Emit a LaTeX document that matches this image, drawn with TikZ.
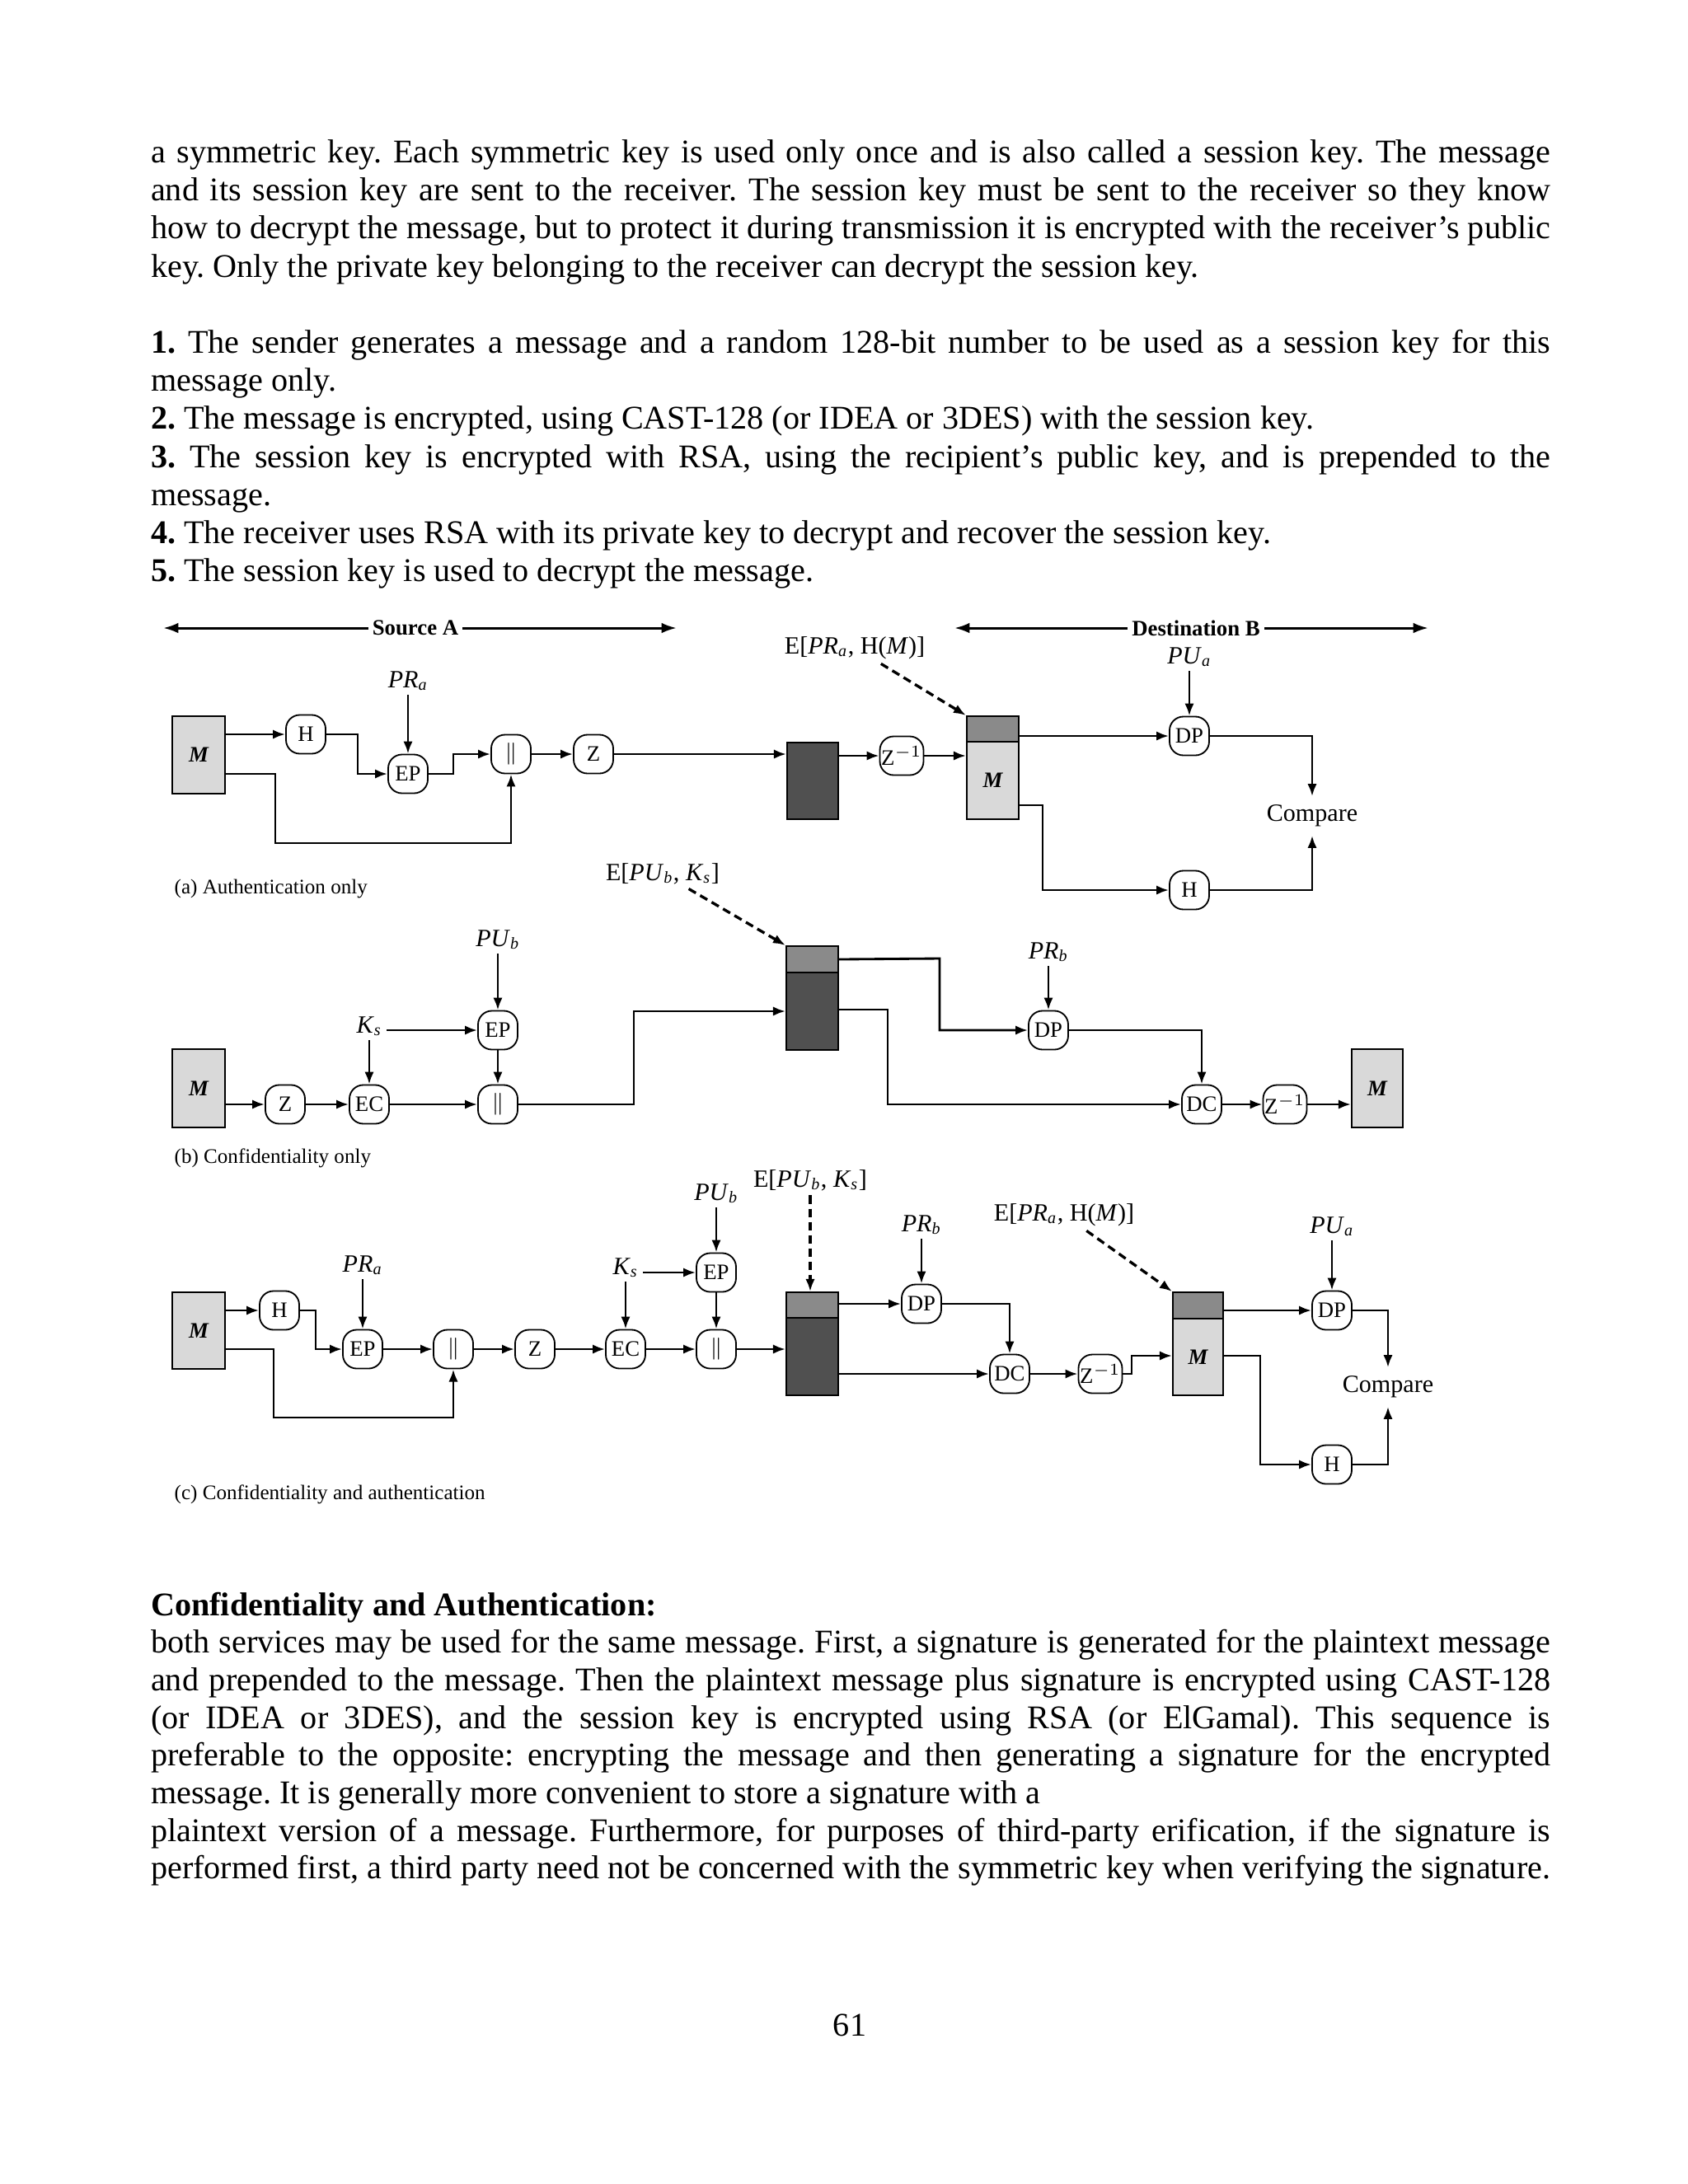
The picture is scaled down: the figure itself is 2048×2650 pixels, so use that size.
\documentclass[tikz,border=0pt]{standalone}
\usepackage{fontspec}
\setmainfont{Liberation Serif}
\usetikzlibrary{arrows.meta,calc}
\frenchspacing
\newdimen\pxu \pxu=0.29883pt
\newcommand\sbk[2]{\textit{#1}\textsubscript{\textit{#2}}}
\newcommand\txj[3]{\node[txt] (#1) at (182.5,#2) {\makebox[507.4pt][s]{#3}};}
\newcommand\txl[3]{\node[txt] (#1) at (182.5,#2) {#3};}
\definecolor{mlight}{HTML}{D9D9D9}
\definecolor{dgray}{HTML}{505050}
\definecolor{mgray}{HTML}{8A8A8A}
\tikzset{
 opn/.style={draw, line width=0.55pt, rounded corners=5pt, fill=white, minimum width=48\pxu, minimum height=47\pxu, inner sep=0.5pt, font=\fontsize{8}{9}\selectfont},
 blk/.style={draw, line width=0.6pt, anchor=north west, inner sep=0pt, font=\fontsize{8}{9}\selectfont\bfseries\itshape},
 conn/.style={line width=0.85pt, -{Latex[length=4.5pt,width=3.4pt]}},
 dconn/.style={line width=1pt, dash pattern=on 3pt off 1.8pt, -{Latex[length=4.5pt,width=3.4pt]}},
 bigarr/.style={line width=0.9pt, {Latex[length=5.5pt,width=3.8pt]}-{Latex[length=5.5pt,width=3.8pt]}},
 keyl/.style={font=\fontsize{9}{10}\selectfont, inner sep=1.5pt},
 capl/.style={font=\fontsize{7.5}{9}\selectfont, anchor=west, inner sep=0pt},
 txt/.style={anchor=base west, inner sep=0pt, font=\fontsize{12}{13.8}\selectfont},
}
\begin{document}
\begin{tikzpicture}[x=0.29883pt,y=-0.29883pt]
\useasboundingbox (0,0) rectangle (2048,2650);
\fill[white] (0,0) rectangle (2048,2650);
% ---------------- top text
\txj{t0}{197.5}{a symmetric key. Each symmetric key is used only once and is also called a session key. The message}
\txj{t1}{243.7}{and its session key are sent to the receiver. The session key must be sent to the receiver so they know}
\txj{t2}{289.9}{how to decrypt the message, but to protect it during transmission it is encrypted with the receiver's public}
\txl{t3}{336.1}{key. Only the private key belonging to the receiver can decrypt the session key.}
\txj{t5}{428.5}{\textbf{1.} The sender generates a message and a random 128-bit number to be used as a session key for this}
\txl{t6}{474.7}{message only.}
\txl{t7}{520.9}{\textbf{2.} The message is encrypted, using CAST-128 (or IDEA or 3DES) with the session key.}
\txj{t8}{567.1}{\textbf{3.} The session key is encrypted with RSA, using the recipient's public key, and is prepended to the}
\txl{t9}{613.3}{message.}
\txl{t10}{659.5}{\textbf{4.} The receiver uses RSA with its private key to decrypt and recover the session key.}
\txl{t11}{705.7}{\textbf{5.} The session key is used to decrypt the message.}
% ---------------- bottom text
\txl{b0}{1960}{\textbf{Confidentiality and Authentication:}}
\txj{b1}{2005.7}{both services may be used for the same message. First, a signature is generated for the plaintext message}
\txj{b2}{2051.4}{and prepended to the message. Then the plaintext message plus signature is encrypted using CAST-128}
\txj{b3}{2097.1}{(or IDEA or 3DES), and the session key is encrypted using RSA (or ElGamal). This sequence is}
\txj{b4}{2142.8}{preferable to the opposite: encrypting the message and then generating a signature for the encrypted}
\txl{b5}{2188.5}{message. It is generally more convenient to store a signature with a}
\txj{b6}{2234.2}{plaintext version of a message. Furthermore, for purposes of third-party erification, if the signature is}
\txj{b7}{2279.9}{performed first, a third party need not be concerned with the symmetric key when verifying the signature.}
\node[anchor=base, inner sep=0pt, font=\fontsize{12}{13.8}\selectfont] (pg) at (1031,2470) {61};
% ---------------- (a)
\coordinate (srcL) at (198,762); \coordinate (srcR) at (821,762);
\draw[bigarr] (srcL) -- (srcR);
\node[fill=white, font=\fontsize{8}{9}\selectfont\bfseries, inner sep=1.5pt] (srcLab) at (504,762) {Source A};
\coordinate (dstL) at (1158,762); \coordinate (dstR) at (1733,762);
\draw[bigarr] (dstL) -- (dstR);
\node[fill=white, font=\fontsize{8}{9}\selectfont\bfseries, inner sep=1.5pt] (dstLab) at (1451,762) {Destination B};

\node[blk, fill=mlight, minimum width=64\pxu, minimum height=94\pxu] (Ma) at (208,868) {M};
\node[opn] (Ha) at (371,891) {H};
\node[opn] (EPa) at (495,939) {EP};
\node[keyl] (PRa) at (495,826) {\sbk{PR}{a}};
\node[opn] (CCa) at (620,915) {$\|$};
\node[opn] (Za) at (720,915) {Z};
\node[blk, fill=dgray, minimum width=62\pxu, minimum height=93\pxu] (Dka) at (954,900) {};
\node[opn, minimum width=52\pxu] (Zia) at (1094,917) {Z$^{-1}$};
\node[blk, fill=mgray, minimum width=63\pxu, minimum height=31\pxu] (MDaT) at (1172,868) {};
\node[blk, fill=mlight, minimum width=63\pxu, minimum height=94\pxu] (MDaB) at (1172,899) {M};
\node[keyl] (EHa) at (1037,786) {E[\sbk{PR}{a}, H(\textit{M})]};
\node[opn] (DPa) at (1443,893) {DP};
\node[keyl] (PUa) at (1443,797) {\sbk{PU}{a}};
\node[keyl, inner sep=3pt] (Cmpa) at (1592,990) {Compare};
\node[opn] (H2a) at (1443,1080) {H};
\node[capl] (capa) at (211,1078) {(a) Authentication only};
\coordinate (a1) at (434,891); \coordinate (a2) at (550,939);
\coordinate (a3) at (334,939); \coordinate (a4) at (620,1023);
\coordinate (a5) at (1265,977);

\draw[conn] (Ma.east |- Ha) -- (Ha);
\draw[conn] (Ha) -- (a1) |- (EPa);
\draw[conn] (PRa) -- (EPa);
\draw[conn] (EPa) -- (a2) |- (CCa);
\draw[conn] (CCa) -- (Za);
\draw[conn] (Za) -- (Za -| Dka.west);
\draw[conn] (Ma.east |- EPa) -- (a3) |- (a4) -- (CCa);
\draw[conn] (Dka.east |- Zia) -- (Zia);
\draw[conn] (Zia) -- (Zia -| MDaB.west);
\draw[dconn] (EHa) -- (MDaT.north west);
\draw[conn] (MDaT.east |- DPa) -- (DPa);
\draw[conn] (PUa) -- (DPa);
\draw[conn] (DPa) -| (Cmpa);
\draw[conn] (MDaB.east |- a5) -- (a5) |- (H2a);
\draw[conn] (H2a) -| (Cmpa);
% ---------------- (b)
\node[blk, fill=mlight, minimum width=64\pxu, minimum height=95\pxu] (Mb) at (208,1272) {M};
\node[opn] (Zb) at (346,1340) {Z};
\node[opn] (ECb) at (448,1340) {EC};
\node[opn] (CCb) at (604,1340) {$\|$};
\node[opn] (EPb) at (604,1250) {EP};
\node[keyl] (Ksb) at (448,1245) {\sbk{K}{s}};
\node[keyl] (PUbb) at (604,1140) {\sbk{PU}{b}};
\node[blk, fill=mgray, minimum width=63\pxu, minimum height=32\pxu] (DkbT) at (953,1147) {};
\node[blk, fill=dgray, minimum width=63\pxu, minimum height=94\pxu] (DkbB) at (953,1179) {};
\node[keyl] (EKb) at (804,1060) {E[\sbk{PU}{b}, \sbk{K}{s}]};
\node[opn] (DPb) at (1272,1250) {DP};
\node[keyl] (PRbb) at (1272,1155) {\sbk{PR}{b}};
\node[opn] (DCb) at (1458,1340) {DC};
\node[opn, minimum width=52\pxu] (Zib) at (1559,1340) {Z$^{-1}$};
\node[blk, fill=mlight, minimum width=62\pxu, minimum height=95\pxu] (Mb2) at (1639,1272) {M};
\node[capl] (capb) at (211,1405) {(b) Confidentiality only};
\coordinate (b1) at (769,1340); \coordinate (b3) at (1140,1163); \coordinate (b4) at (1077,1225);

\draw[conn] (Mb.east |- Zb) -- (Zb);
\draw[conn] (Zb) -- (ECb);
\draw[conn] (ECb) -- (CCb);
\draw[conn] (Ksb) -- (ECb);
\draw[conn] (Ksb.east |- EPb) -- (EPb);
\draw[conn] (PUbb) -- (EPb);
\draw[conn] (EPb) -- (CCb);
\draw[conn] (CCb) -- (b1) |- (DkbB.west);
\draw[dconn] (EKb) -- (DkbT.north west);
\draw[conn] (DkbT.east) -- (b3) |- (DPb);
\draw[conn] (PRbb) -- (DPb);
\draw[conn] (DkbB.east |- b4) -- (b4) |- (DCb);
\draw[conn] (DPb) -| (DCb);
\draw[conn] (DCb) -- (Zib);
\draw[conn] (Zib) -- (Zib -| Mb2.west);
% ---------------- (c)
\node[blk, fill=mlight, minimum width=64\pxu, minimum height=93\pxu] (Mc) at (208,1567) {M};
\node[opn] (Hc) at (339,1590) {H};
\node[keyl] (PRac) at (440,1535) {\sbk{PR}{a}};
\node[opn] (EPc) at (440,1637) {EP};
\node[opn] (CCc) at (550,1637) {$\|$};
\node[opn] (Zc) at (649,1637) {Z};
\node[opn] (ECc) at (759,1637) {EC};
\node[opn] (CCc2) at (869,1637) {$\|$};
\node[opn] (EPc2) at (869,1544) {EP};
\node[keyl] (Ksc) at (759,1538) {\sbk{K}{s}};
\node[keyl] (PUbc) at (869,1448) {\sbk{PU}{b}};
\node[blk, fill=mgray, minimum width=63\pxu, minimum height=31\pxu] (DkcT) at (953,1567) {};
\node[blk, fill=dgray, minimum width=63\pxu, minimum height=94\pxu] (DkcB) at (953,1598) {};
\node[keyl] (EKc) at (983,1432) {E[\sbk{PU}{b}, \sbk{K}{s}]};
\node[opn] (DPc) at (1118,1582) {DP};
\node[keyl] (PRbc) at (1118,1486) {\sbk{PR}{b}};
\node[opn] (DCc) at (1225,1667) {DC};
\node[opn, minimum width=52\pxu] (Zic) at (1335,1667) {Z$^{-1}$};
\node[blk, fill=mgray, minimum width=61\pxu, minimum height=32\pxu] (MDcT) at (1422,1567) {};
\node[blk, fill=mlight, minimum width=61\pxu, minimum height=93\pxu] (MDcB) at (1422,1599) {M};
\node[keyl] (EHc) at (1291,1474) {E[\sbk{PR}{a}, H(\textit{M})]};
\node[opn] (DPc2) at (1616,1590) {DP};
\node[keyl] (PUac) at (1616,1488) {\sbk{PU}{a}};
\node[keyl, inner sep=3pt] (Cmpc) at (1684,1683) {Compare};
\node[opn] (H2c) at (1616,1777) {H};
\node[capl] (capc) at (211,1813) {(c) Confidentiality and authentication};
\coordinate (c1) at (383,1590); \coordinate (c2) at (332,1637); \coordinate (c3) at (550,1720);
\coordinate (c4) at (1373,1667); \coordinate (c6) at (1373,1645); \coordinate (c7) at (1529,1645);

\draw[conn] (Mc.east |- Hc) -- (Hc);
\draw[conn] (Hc) -- (c1) |- (EPc);
\draw[conn] (PRac) -- (EPc);
\draw[conn] (EPc) -- (CCc);
\draw[conn] (CCc) -- (Zc);
\draw[conn] (Zc) -- (ECc);
\draw[conn] (ECc) -- (CCc2);
\draw[conn] (Mc.east |- EPc) -- (c2) |- (c3) -- (CCc);
\draw[conn] (Ksc.east |- EPc2) -- (EPc2);
\draw[conn] (Ksc) -- (ECc);
\draw[conn] (PUbc) -- (EPc2);
\draw[conn] (EPc2) -- (CCc2);
\draw[conn] (CCc2) -- (CCc2 -| DkcB.west);
\draw[dconn] (EKc) -- (EKc |- DkcT.north);
\draw[conn] (DkcT.east |- DPc) -- (DPc);
\draw[conn] (PRbc) -- (DPc);
\draw[conn] (DPc) -| (DCc);
\draw[conn] (DkcB.east |- DCc) -- (DCc);
\draw[conn] (DCc) -- (Zic);
\draw[conn] (Zic) -- (c4) -- (c6) -- (c6 -| MDcB.west);
\draw[dconn] (EHc) -- (MDcT.north west);
\draw[conn] (MDcT.east |- DPc2) -- (DPc2);
\draw[conn] (PUac) -- (DPc2);
\draw[conn] (DPc2) -| (Cmpc);
\draw[conn] (MDcB.east |- c7) -- (c7) |- (H2c);
\draw[conn] (H2c) -| (Cmpc);
\end{tikzpicture}
\end{document}
